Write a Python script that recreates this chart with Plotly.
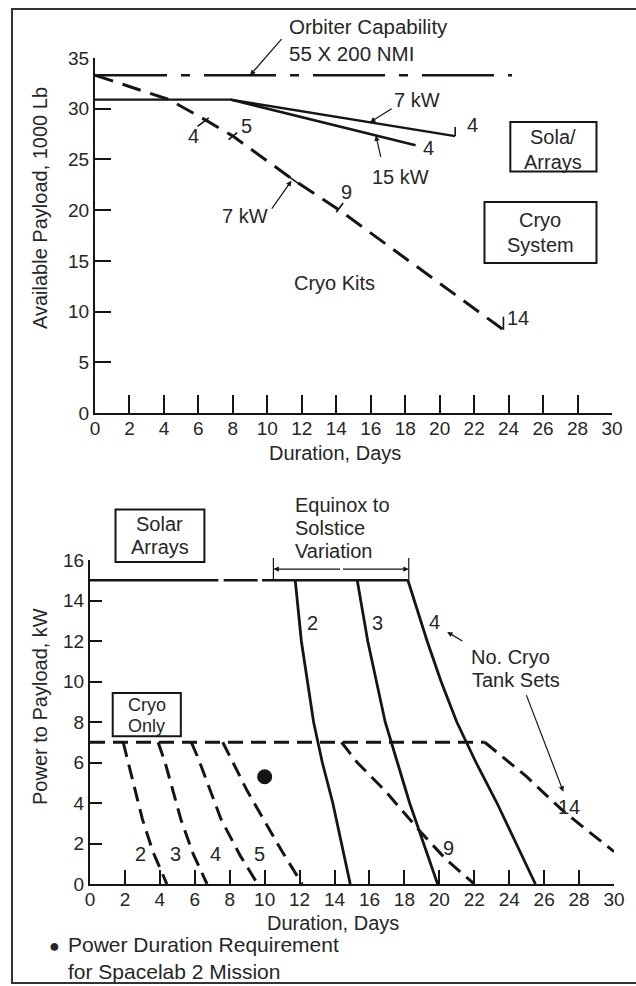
import numpy as np
import plotly.graph_objects as go

W, H = 636, 986
INK = "#151515"
TXT = "#262626"
FONT = "Liberation Sans, Arial, sans-serif"

# ---------------- Top chart: Available payload (1000 lb) vs duration (days)
top_ticks_x = list(range(0, 31, 2))
top_ticks_y = list(range(0, 36, 5))

orbiter_days = [0, 24.2]
orbiter_payload = [33.3, 33.3]

solar_flat_days = [0, 7.85]
solar_flat_payload = [30.9, 30.9]
solar7_days = [7.85, 20.9]
solar7_payload = [30.9, 27.3]
solar15_days = [7.85, 18.6]
solar15_payload = [30.9, 26.4]

kits_days = [0, 4.3, 6.4, 8.0, 11.5, 14.1, 23.7]
kits_payload = [33.3, 30.9, 28.9, 27.3, 23.0, 20.1, 8.2]
kits_marks_days = [6.4, 8.0, 11.5, 14.1]
kits_marks_labels = ["4", "5", "7 kW", "9"]

# ---------------- Bottom chart: Power to payload (kW) vs duration (days)
bot_ticks_x = list(range(0, 31, 2))
bot_ticks_y = list(range(0, 17, 2))

solar_days = [0, 7.35, None, 7.65, 9.6, None, 9.85, 18.2]
solar_kw = [15, 15, None, 15, 15, None, 15, 15]

tank_kw = [15, 12, 10, 8, 6, 4, 2, 0]
tank2_days = [11.75, 12.1, 12.45, 12.8, 13.3, 13.9, 14.4, 14.9]
tank3_days = [15.3, 15.9, 16.4, 16.9, 17.6, 18.3, 19.1, 19.9]
tank4_days = [18.2, 19.3, 20.1, 21.0, 22.1, 23.3, 24.4, 25.5]

cryo_level_days = [0, 22.6]
cryo_level_kw = [7, 7]
kit2_days = [1.9, 2.2, 3.0, 3.6, 4.4]
kit2_kw = [7, 6.0, 3.2, 1.6, 0]
kit3_days = [3.9, 4.3, 5.2, 5.9, 6.7]
kit3_kw = [7, 6.0, 3.2, 1.5, 0]
kit4_days = [5.8, 6.2, 7.5, 8.6, 9.6]
kit4_kw = [7, 6.2, 3.2, 1.4, 0]
kit5_days = [7.6, 8.0, 9.0, 10.0, 11.0, 12.15]
kit5_kw = [7, 6.3, 4.6, 3.1, 1.6, 0]
kit9_days = [14.4, 15.3, 16.9, 19.0, 20.4, 22.0]
kit9_kw = [7, 6.0, 4.6, 2.5, 1.2, 0]
kit14_days = [22.6, 23.9, 25.0, 26.1, 27.1, 28.25, 30.0]
kit14_kw = [7, 6.1, 5.3, 4.4, 3.6, 2.8, 1.6]

requirement_days = [10.0]
requirement_kw = [5.3]

# ---------------- geometry of the two panels (pixels)
TOP = dict(x0=95, x1=612, y0=413, y1=58, xr=30, yr=35)
BOT = dict(x0=90, x1=614, y0=884, y1=560, xr=30, yr=16)


def pix(p, d, v):
    return (p["x0"] + d * (p["x1"] - p["x0"]) / p["xr"],
            p["y0"] - v * (p["y0"] - p["y1"]) / p["yr"])


fig = go.Figure()


def line(x, y, xa, ya, width=2.4, dash="solid"):
    fig.add_trace(go.Scatter(x=x, y=y, xaxis=xa, yaxis=ya, mode="lines",
                             line=dict(color=INK, width=width, dash=dash),
                             hoverinfo="skip", showlegend=False, connectgaps=False))


# top traces
line(orbiter_days, orbiter_payload, "x", "y", 2.6, "72px,14px,9px,14px")
line(solar_flat_days, solar_flat_payload, "x", "y", 2.4)
line(solar7_days, solar7_payload, "x", "y", 2.4)
line(solar15_days, solar15_payload, "x", "y", 2.6)
line(kits_days, kits_payload, "x", "y", 3.0, "19px,10px")

# bottom traces
line(solar_days, solar_kw, "x2", "y2", 2.4)
for d in (tank2_days, tank3_days, tank4_days):
    line(d, tank_kw, "x2", "y2", 2.8)
line(cryo_level_days, cryo_level_kw, "x2", "y2", 3.0, "15px,8px")
for d, k in ((kit2_days, kit2_kw), (kit3_days, kit3_kw), (kit4_days, kit4_kw),
             (kit5_days, kit5_kw), (kit9_days, kit9_kw), (kit14_days, kit14_kw)):
    line(d, k, "x2", "y2", 3.0, "15px,8px")
fig.add_trace(go.Scatter(x=requirement_days, y=requirement_kw, xaxis="x2", yaxis="y2",
                         mode="markers", marker=dict(size=15, color=INK),
                         hoverinfo="skip", showlegend=False))

ann = []
shapes = []


def text(t, p, d, v, xanchor="center", size=20, angle=0):
    px, py = pix(p, d, v) if p is not None else (d, v)
    ann.append(dict(text=t, x=px / W, y=1 - py / H, xref="paper", yref="paper",
                    xanchor=xanchor, yanchor="middle", showarrow=False, textangle=angle,
                    align=xanchor if xanchor != "center" else "center",
                    font=dict(size=size, color=TXT)))


def arrow(p, d, v, td, tv, head=2):
    hx, hy = pix(p, d, v)
    tx, ty = pix(p, td, tv)
    ann.append(dict(text="", x=hx / W, y=1 - hy / H, xref="paper", yref="paper",
                    ax=tx - hx, ay=ty - hy, showarrow=True, arrowhead=head,
                    arrowsize=0.9, arrowwidth=1.2, arrowcolor=INK, standoff=0))


def seg(p, d0, v0, d1, v1, w=1.6):
    x0, y0 = pix(p, d0, v0)
    x1, y1 = pix(p, d1, v1)
    shapes.append(dict(type="line", xref="paper", yref="paper", x0=x0 / W, y0=1 - y0 / H,
                       x1=x1 / W, y1=1 - y1 / H, line=dict(color=INK, width=w)))


def box(p, d0, v0, d1, v1):
    x0, y0 = pix(p, d0, v0)
    x1, y1 = pix(p, d1, v1)
    shapes.append(dict(type="rect", xref="paper", yref="paper", x0=x0 / W, y0=1 - y0 / H,
                       x1=x1 / W, y1=1 - y1 / H, line=dict(color=INK, width=2)))


# ---- top annotations
text("Orbiter Capability<br>55 X 200 NMI", TOP, 11.15, 36.8, xanchor="left", size=20.5)
arrow(TOP, 9.0, orbiter_payload[0], 10.9, 37.0)

text("7 kW", TOP, 18.7, 30.9)
arrow(TOP, 15.96, float(np.interp(15.96, solar7_days, solar7_payload)), 17.3, 30.1)
text("15 kW", TOP, 17.7, 23.3)
arrow(TOP, 16.3, float(np.interp(16.3, solar15_days, solar15_payload)), 16.6, 25.1)
text("4", TOP, solar7_days[-1] + 1.0, solar7_payload[-1] + 1.1)
seg(TOP, solar7_days[-1], solar7_payload[-1], solar7_days[-1], solar7_payload[-1] + 0.9)
text("4", TOP, solar15_days[-1] + 0.75, solar15_payload[-1] - 0.3)

kp = [float(np.interp(d, kits_days, kits_payload)) for d in kits_marks_days]
text(kits_marks_labels[0], TOP, 5.7, 27.3)
seg(TOP, kits_marks_days[0] - 0.45, kp[0] - 0.65, kits_marks_days[0] + 0.2, kp[0] + 0.2)
text(kits_marks_labels[1], TOP, 8.8, 28.3)
seg(TOP, kits_marks_days[1] - 0.25, kp[1] - 0.35, kits_marks_days[1] + 0.25, kp[1] + 0.35)
text(kits_marks_labels[2], TOP, 8.7, 19.4)
seg(TOP, kits_marks_days[2] - 0.5, kp[2] + 0.6, kits_marks_days[2] + 0.5, kp[2] - 0.6)
arrow(TOP, kits_marks_days[2] - 0.1, kp[2] - 0.1, 10.2, 20.0)
text(kits_marks_labels[3], TOP, 14.6, 21.8)
seg(TOP, kits_marks_days[3] - 0.1, kp[3] - 0.3, kits_marks_days[3] + 0.3, kp[3] + 0.6)
text("Cryo Kits", TOP, 13.9, 12.8)
text("14", TOP, kits_days[-1] + 0.85, kits_payload[-1] + 1.2)
seg(TOP, kits_days[-1], kits_payload[-1], kits_days[-1], kits_payload[-1] + 1.3)

box(TOP, 24.1, 28.7, 29.1, 23.8)
text("Sola/", TOP, 26.6, 27.2)
text("Arrays", TOP, 26.6, 24.75)
box(TOP, 22.6, 20.8, 29.1, 14.8)
text("Cryo", TOP, 25.85, 19.0)
text("System", TOP, 25.85, 16.6)

# axis titles (top)
text("Duration, Days", None, 335, 453)
text("Available Payload, 1000 Lb", None, 40, 208, angle=-90)

# ---- bottom annotations
box(BOT, 1.46, 18.5, 6.55, 15.9)
text("Solar", BOT, 4.0, 17.8)
text("Arrays", BOT, 4.0, 16.65)
box(BOT, 1.3, 9.43, 5.2, 7.3)
text("Cryo", BOT, 3.25, 8.85, size=18)
text("Only", BOT, 3.25, 7.8, size=18)

text("Equinox to", BOT, 11.65, 18.7, xanchor="left")
text("Solstice", BOT, 11.65, 17.57, xanchor="left")
text("Variation", BOT, 11.65, 16.44, xanchor="left")
seg(BOT, 10.5, 15.0, 10.5, 16.1, 1.2)
seg(BOT, tank4_days[0] + 0.05, 15.0, tank4_days[0] + 0.05, 16.1, 1.2)
arrow(BOT, 10.5, 15.55, 14.4, 15.55)
arrow(BOT, tank4_days[0] + 0.05, 15.55, 14.4, 15.55)

text("2", BOT, 12.75, 12.9)
text("3", BOT, 16.45, 12.9)
text("4", BOT, 19.75, 12.95)
text("No. Cryo", BOT, 21.7, 11.2, xanchor="left")
text("Tank Sets", BOT, 21.75, 10.05, xanchor="left")
arrow(BOT, 20.45, 12.45, 21.4, 11.95)
arrow(BOT, 27.1, 4.56, 24.95, 9.4)

for lab, xx in zip(["2", "3", "4", "5"], [2.9, 4.9, 7.2, 9.7]):
    text(lab, BOT, xx, 1.5)
text("9", BOT, 20.5, 1.8)
text("14", BOT, 27.45, 3.8)

# axis titles (bottom)
text("Duration, Days", None, 333, 923)
text("Power to Payload, kW", None, 40, 707, angle=-90)

# footnote
text("●", None, 54, 946, size=18)
text("Power Duration Requirement<br>for Spacelab 2 Mission", None, 66, 958,
     xanchor="left", size=21)

# outer frame
shapes.append(dict(type="rect", xref="paper", yref="paper", x0=12 / W, x1=1.02,
                   y0=1 - 983 / H, y1=1 - 9 / H, line=dict(color="#333", width=2)))

axis_common = dict(showline=True, linecolor=INK, linewidth=2.2, showgrid=False,
                   zeroline=False, ticks="inside", tickcolor=INK, tickwidth=2,
                   tickfont=dict(size=19, color=TXT, family=FONT), automargin=False,
                   fixedrange=True)

fig.update_layout(
    width=W, height=H, margin=dict(l=0, r=0, t=0, b=0),
    paper_bgcolor="white", plot_bgcolor="white",
    font=dict(family=FONT, size=20, color=TXT),
    showlegend=False,
    xaxis=dict(domain=[TOP["x0"] / W, TOP["x1"] / W], range=[0, 30], tickvals=top_ticks_x,
               ticklen=18, anchor="y", ticklabelstandoff=-3, **axis_common),
    yaxis=dict(domain=[1 - TOP["y0"] / H, 1 - TOP["y1"] / H], range=[0, 35],
               tickvals=top_ticks_y, ticklen=16, anchor="x", **axis_common),
    xaxis2=dict(domain=[BOT["x0"] / W, BOT["x1"] / W], range=[0, 30], tickvals=bot_ticks_x,
                ticklen=14, anchor="y2", ticklabelstandoff=-3, **axis_common),
    yaxis2=dict(domain=[1 - BOT["y0"] / H, 1 - BOT["y1"] / H], range=[0, 16],
                tickvals=bot_ticks_y, ticklen=12, anchor="x2", **axis_common),
    annotations=ann, shapes=shapes,
)

fig.write_html("out.html", config={"displayModeBar": False},
               post_script="document.body.style.margin='0px';"
                           "document.body.style.overflow='hidden';")
